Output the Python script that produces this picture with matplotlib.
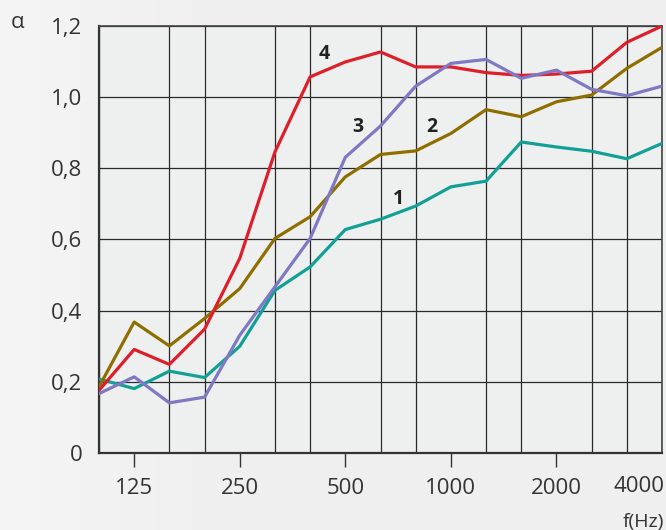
import numpy as np
import matplotlib.pyplot as plt

# 1/3 octave bands, 100 Hz .. 4000 Hz
freqs = [100, 125, 160, 200, 250, 315, 400, 500, 630, 800,
         1000, 1250, 1600, 2000, 2500, 3150, 4000]

alpha_1 = [0.208, 0.181, 0.230, 0.212, 0.300, 0.457, 0.523, 0.628, 0.657,
           0.694, 0.748, 0.764, 0.874, 0.860, 0.848, 0.827, 0.870]
alpha_2 = [0.186, 0.368, 0.301, 0.378, 0.462, 0.603, 0.664, 0.776, 0.839,
           0.849, 0.898, 0.965, 0.945, 0.987, 1.006, 1.081, 1.140]
alpha_3 = [0.167, 0.214, 0.141, 0.157, 0.331, 0.467, 0.603, 0.831, 0.919,
           1.031, 1.095, 1.106, 1.053, 1.076, 1.022, 1.004, 1.031]
alpha_4 = [0.176, 0.291, 0.249, 0.348, 0.547, 0.846, 1.057, 1.099, 1.127,
           1.085, 1.085, 1.069, 1.061, 1.065, 1.073, 1.154, 1.200]

tick_freqs = [125, 250, 500, 1000, 2000]
y_ticks = [0, 0.2, 0.4, 0.6, 0.8, 1.0, 1.2]
y_labels = ["0", "0,2", "0,4", "0,6", "0,8", "1,0", "1,2"]

plt.rcParams['font.family'] = ['Open Sans', 'DejaVu Sans']

fig = plt.figure(figsize=(6.66, 5.30), dpi=100, facecolor='#efefef')

# soft light background on the left side
bg = fig.add_axes([0, 0, 1, 1], zorder=-10)
grad = np.linspace(0, 1, 200)
grad = np.clip(grad / 0.35, 0, 1)
bg.imshow(grad[np.newaxis, :], aspect='auto', extent=[0, 1, 0, 1],
          cmap=plt.matplotlib.colors.LinearSegmentedColormap.from_list(
              'bg', ['#f6f5f5', '#efefef']))
bg.axis('off')

ax = fig.add_axes([99 / 666, 1 - 453 / 530, 563 / 666, 427 / 530])
ax.set_facecolor('#eef0ef')

x = np.arange(len(freqs))
ax.plot(x, alpha_1, color='#12a096', lw=2.3, zorder=3)
ax.plot(x, alpha_2, color='#8e6e00', lw=2.3, zorder=3)
ax.plot(x, alpha_4, color='#dc1f2b', lw=2.3, zorder=3)
ax.plot(x, alpha_3, color='#7f78c3', lw=2.3, zorder=4)

ax.set_xlim(0, len(freqs) - 1)
ax.set_ylim(0, 1.2)

# grid: every 1/3 octave vertically, every 0.2 horizontally
ax.set_xticks(x, minor=True)
ax.set_yticks(y_ticks)
ax.set_yticklabels(y_labels)
ax.grid(True, which='minor', axis='x', color='#2a2a2a', lw=0.9)
ax.grid(True, which='major', axis='y', color='#2a2a2a', lw=0.9)
ax.set_axisbelow(True)

ax.set_xticks([freqs.index(f) for f in tick_freqs])
ax.set_xticklabels([str(f) for f in tick_freqs])
ax.tick_params(axis='x', which='major', length=10, width=1, color='#333333',
               labelsize=16, pad=8, labelcolor='#333333')
ax.tick_params(axis='x', which='minor', length=0)
ax.tick_params(axis='y', length=0, labelsize=16, pad=12, labelcolor='#333333')

for s in ['left', 'bottom']:
    ax.spines[s].set_color('#333333')
    ax.spines[s].set_linewidth(1.6)
for s in ['top', 'right']:
    ax.spines[s].set_color('#444444')
    ax.spines[s].set_linewidth(1.2)

fig.text(664 / 666, 1 - 487 / 530, "4000", ha='right', va='center',
         fontsize=16, color='#333333')
fig.text(664 / 666, 1 - 522 / 530, "f(Hz)", ha='right', va='center',
         fontsize=14, color='#333333')
fig.text(17 / 666, 1 - 22 / 530, "α", ha='center', va='center',
         fontsize=16, color='#333333')

# curve numbers
ax.text(6.4, 1.12, "4", fontsize=14, fontweight='bold', color='#222222',
        ha='center', va='center')
ax.text(7.35, 0.915, "3", fontsize=14, fontweight='bold', color='#222222',
        ha='center', va='center')
ax.text(9.45, 0.915, "2", fontsize=14, fontweight='bold', color='#222222',
        ha='center', va='center')
ax.text(8.5, 0.713, "1", fontsize=14, fontweight='bold', color='#222222',
        ha='center', va='center')

fig.savefig('out.png', dpi=100, facecolor=fig.get_facecolor())
